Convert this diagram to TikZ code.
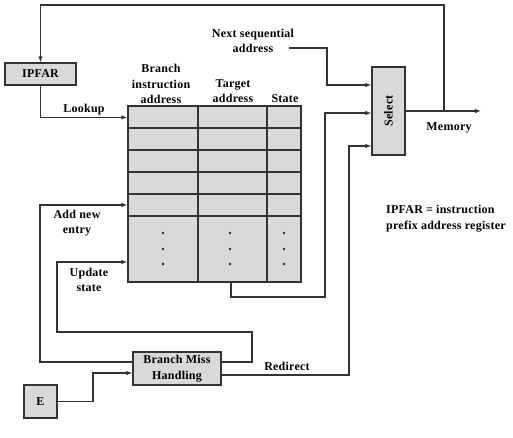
\documentclass[tikz,border=0pt]{standalone}
\usepackage{fontspec}
\setmainfont{Liberation Serif}[LetterSpace=2]
\usetikzlibrary{arrows.meta,calc}
\begin{document}
\begin{tikzpicture}[x=1pt,y=-1pt,
  font=\fontsize{12}{15.5}\selectfont\bfseries,
  line/.style={draw=black!80,line width=1.2pt},
  arr/.style={line,-{Latex[length=6pt,width=4.5pt]}},
  box/.style={draw=black!80,line width=1.2pt,fill=black!15,inner sep=0pt,align=center},
  lbl/.style={inner sep=0pt,align=center}]
\useasboundingbox (0,0) rectangle (513,438);

% blocks
\node[box,minimum width=71pt,minimum height=22pt] (ipfar) at (40.5,74) {IPFAR};
\node[box,minimum width=33pt,minimum height=88pt] (sel) at (388.5,111) {\rotatebox{90}{Select}};
\node[box,minimum width=88pt,minimum height=33pt] (bmh) at (177,368.5) {Branch Miss\\Handling};
\node[box,minimum width=33pt,minimum height=33pt] (e) at (40.5,401.5) {E};

% branch target buffer table
\node[box,minimum width=173pt,minimum height=176pt] (tbl) at (214.5,194) {};
\foreach \y in {128,150,172,194,216}
  \draw[line] (128,\y) -- (301,\y);
\draw[line] (198,106) -- (198,282);
\draw[line] (267,106) -- (267,282);
\foreach \x in {163,230,284}
  \foreach \y in {233,249,264}
    \fill[black!85] (\x,\y) circle (1.3pt);

% column headers
\node[lbl] (hbia) at (161,84) {Branch\\instruction\\address};
\node[lbl] (hta) at (233,91) {Target\\address};
\node[lbl] (hst) at (285,99) {State};

% labels
\node[lbl] (nsa) at (253,41) {Next sequential\\address};
\node[lbl] (lookup) at (84,110) {Lookup};
\node[lbl] (addnew) at (77,223) {Add new\\entry};
\node[lbl] (upd) at (89,280) {Update\\state};
\node[lbl] (redir) at (287,366) {Redirect};
\node[lbl] (mem) at (449,128) {Memory};
\node[lbl,align=left,anchor=west] (legend) at (386,218.5) {IPFAR = instruction\\prefix address register};

% connectors
\coordinate (jn) at (444,111);
\coordinate (memout) at (481,111);
\draw[arr] (sel.east) -- (memout);
\draw[arr] (jn) -- (444,5) -| (ipfar.north);
\draw[arr] (ipfar.south) |- ($(tbl.north west)+(0,12)$);

\coordinate (nsaout) at (289,48);
\draw[arr] (nsaout) -| (327,85) -- (sel.west |- 0,85);

\coordinate (tblout) at (231,282);
\draw[arr] (tblout) |- (325,297) |- (sel.west |- 0,113);

\draw[arr] ([yshift=-6.5pt]bmh.east) -| (349,146) -- (sel.west |- 0,146);
\draw[arr] ([yshift=6.5pt]bmh.west) -| (40,205) -- (tbl.west |- 0,205);
\draw[arr] ([yshift=6.5pt]bmh.east) -| (252,332) -| (57,262) -- (tbl.west |- 0,262);
\draw[arr] (e.east) -| (93,373) -- (bmh.west |- 0,373);
\end{tikzpicture}
\end{document}
